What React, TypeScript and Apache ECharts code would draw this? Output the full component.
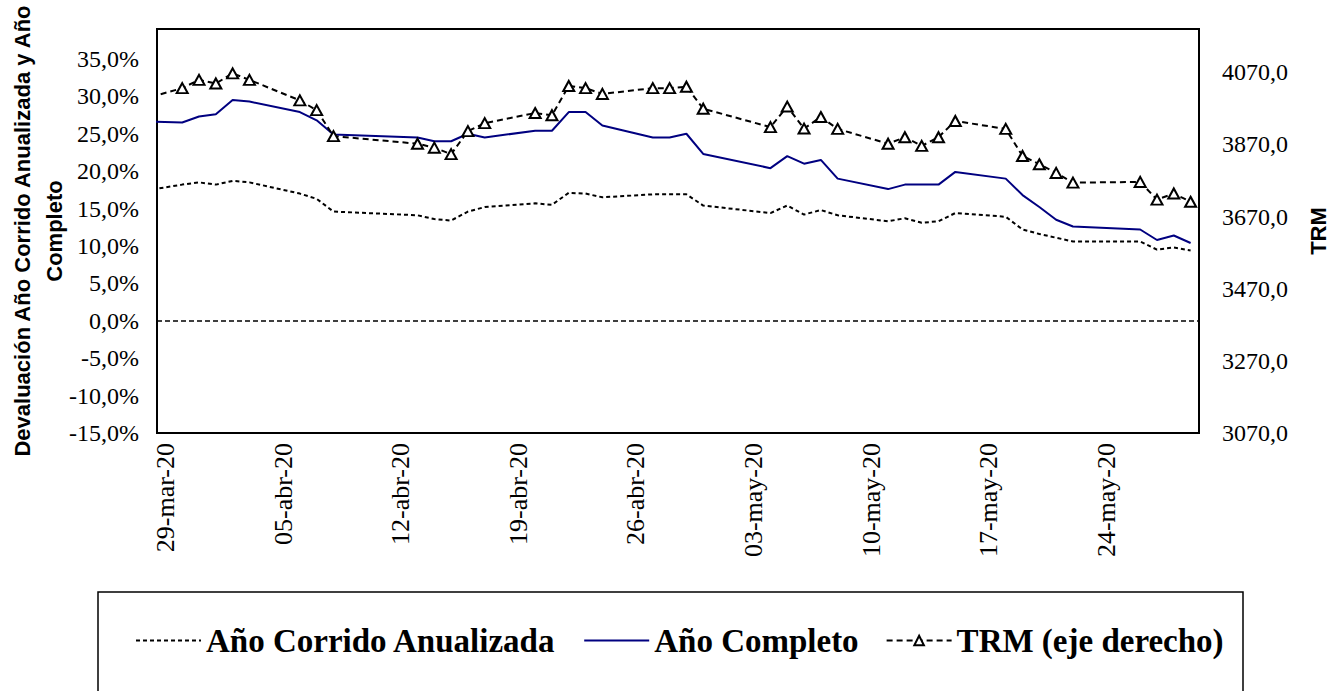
import React, { useEffect, useRef } from "react";
import * as echarts from "echarts";

// Trading days (TRM quote dates)
const tradeDates = [
  "2020-03-27", "2020-03-30", "2020-03-31", "2020-04-01", "2020-04-02", "2020-04-03",
  "2020-04-06", "2020-04-07", "2020-04-08", "2020-04-13", "2020-04-14", "2020-04-15",
  "2020-04-16", "2020-04-17", "2020-04-20", "2020-04-21", "2020-04-22", "2020-04-23",
  "2020-04-24", "2020-04-27", "2020-04-28", "2020-04-29", "2020-04-30", "2020-05-04",
  "2020-05-05", "2020-05-06", "2020-05-07", "2020-05-08", "2020-05-11", "2020-05-12",
  "2020-05-13", "2020-05-14", "2020-05-15", "2020-05-18", "2020-05-19", "2020-05-20",
  "2020-05-21", "2020-05-22", "2020-05-26", "2020-05-27", "2020-05-28", "2020-05-29",
];

// Devaluación año corrido anualizada (%)
const anioCorrido = [
  17.1, 18.2, 18.5, 18.2, 18.7, 18.5, 17.0, 16.3, 14.6, 14.1, 13.6, 13.4,
  14.6, 15.2, 15.7, 15.5, 17.1, 17.0, 16.5, 16.9, 16.9, 16.9, 15.4, 14.4,
  15.4, 14.2, 14.8, 14.1, 13.3, 13.7, 13.1, 13.3, 14.4, 13.9, 12.2, 11.6,
  11.1, 10.6, 10.6, 9.5, 9.8, 9.4,
];

// Devaluación año completo (%)
const anioCompleto = [
  26.7, 26.5, 27.3, 27.6, 29.5, 29.3, 27.9, 26.8, 24.9, 24.5, 24.0, 24.0,
  25.0, 24.5, 25.4, 25.4, 27.9, 27.9, 26.1, 24.5, 24.5, 25.0, 22.3, 20.4,
  22.0, 21.0, 21.5, 19.0, 17.6, 18.2, 18.2, 18.2, 19.9, 19.0, 16.8, 15.2,
  13.5, 12.6, 12.2, 10.8, 11.4, 10.4,
];

// Tasa Representativa del Mercado (COP por USD)
const trm = [
  3987, 4026, 4049, 4039, 4067, 4049, 3992, 3965, 3893, 3872, 3861, 3843,
  3907, 3929, 3957, 3951, 4032, 4026, 4010, 4026, 4026, 4030, 3969, 3918,
  3975, 3914, 3946, 3913, 3872, 3890, 3866, 3890, 3935, 3913, 3838, 3815,
  3791, 3764, 3766, 3717, 3734, 3711,
];

// Weekly date labels on the horizontal axis (Sundays)
const weekTicks = [
  "2020-03-29", "2020-04-05", "2020-04-12", "2020-04-19", "2020-04-26",
  "2020-05-03", "2020-05-10", "2020-05-17", "2020-05-24",
];

const seriesNames = ["Año Corrido Anualizada", "Año Completo", "TRM (eje derecho)"];
const monthsEs = ["ene", "feb", "mar", "abr", "may", "jun", "jul", "ago", "sep", "oct", "nov", "dic"];

const DAY = 86400000;
const BASE = Date.UTC(2020, 2, 29);

function dayOf(s: string): number {
  const [y, m, d] = s.split("-").map(Number);
  return Math.round((Date.UTC(y, m - 1, d) - BASE) / DAY);
}

function fmtDay(v: number): string {
  const dt = new Date(BASE + Math.round(v) * DAY);
  const dd = String(dt.getUTCDate()).padStart(2, "0");
  const yy = String(dt.getUTCFullYear()).slice(2);
  return `${dd}-${monthsEs[dt.getUTCMonth()]}-${yy}`;
}

const serif = "'Liberation Serif', 'Times New Roman', serif";
const sans = "'Liberation Sans', Arial, sans-serif";

export default function App() {
  const ref = useRef<HTMLDivElement | null>(null);

  useEffect(() => {
    if (!ref.current) return;
    const chart = echarts.init(ref.current, undefined, { renderer: "svg" });
    const xs = tradeDates.map(dayOf);

    chart.setOption({
      animation: false,
      backgroundColor: "#ffffff",
      grid: {
        left: 157,
        right: 137,
        top: 29,
        bottom: 258,
        outerBoundsMode: "none",
        containLabel: false,
        show: true,
        borderColor: "#000",
        borderWidth: 2,
        backgroundColor: "transparent",
      },
      graphic: [
        {
          type: "rect",
          shape: { x: 98, y: 592, width: 1145, height: 130 },
          style: { fill: "none", stroke: "#000", lineWidth: 1.5 },
          silent: true,
        },
      ],
      legend: {
        data: seriesNames.map((name, i) => ({
          name,
          itemStyle: i < 2 ? { opacity: 0 } : undefined,
        })),
        left: 130,
        top: 619,
        itemWidth: 65,
        itemHeight: 12,
        itemGap: 27,
        textStyle: {
          fontFamily: serif,
          fontWeight: "bold",
          fontSize: 33,
          color: "#000",
        },
      },
      xAxis: {
        type: "value",
        min: -0.5,
        max: 61.5,
        axisLine: { show: false },
        axisTick: { show: false },
        splitLine: { show: false },
        axisLabel: {
          customValues: weekTicks.map(dayOf),
          rotate: 90,
          margin: 10,
          fontFamily: serif,
          fontSize: 26,
          color: "#000",
          formatter: (v: number) => fmtDay(v),
        },
      },
      yAxis: [
        {
          type: "value",
          position: "left",
          min: -15,
          max: 39,
          interval: 5,
          axisLine: { show: false },
          axisTick: { show: false },
          splitLine: { show: false },
          axisLabel: {
            showMaxLabel: false,
            margin: 18,
            fontFamily: serif,
            fontSize: 24,
            color: "#000",
            formatter: (v: number) => v.toFixed(1).replace(".", ",") + "%",
          },
          name: "Devaluación Año Corrido Anualizada y Año\nCompleto",
          nameLocation: "middle",
          nameRotate: 90,
          nameGap: 87,
          nameMoveOverlap: false,
          nameTextStyle: {
            fontFamily: sans,
            fontWeight: "bold",
            fontSize: 22,
            lineHeight: 32,
            color: "#000",
          },
        },
        {
          type: "value",
          position: "right",
          min: 3070,
          max: 4190,
          interval: 200,
          axisLine: { show: false },
          axisTick: { show: false },
          splitLine: { show: false },
          axisLabel: {
            showMaxLabel: false,
            margin: 23,
            fontFamily: serif,
            fontSize: 24,
            color: "#000",
            formatter: (v: number) => v.toFixed(1).replace(".", ","),
          },
          name: "TRM",
          nameLocation: "middle",
          nameRotate: 90,
          nameGap: 108,
          nameMoveOverlap: false,
          nameTextStyle: {
            fontFamily: sans,
            fontWeight: "bold",
            fontSize: 22,
            color: "#000",
          },
        },
      ],
      series: [
        {
          name: seriesNames[0],
          type: "line",
          yAxisIndex: 0,
          data: xs.map((x, i) => [x, anioCorrido[i]]),
          symbol: "none",
          lineStyle: { color: "#000", width: 2, type: [4, 3] },
          itemStyle: { color: "#000" },
          markLine: {
            silent: true,
            symbol: "none",
            label: { show: false },
            lineStyle: { color: "#000", width: 1.5, type: [5, 3] },
            data: [{ yAxis: 0 }],
          },
        },
        {
          name: seriesNames[1],
          type: "line",
          yAxisIndex: 0,
          data: xs.map((x, i) => [x, anioCompleto[i]]),
          symbol: "none",
          lineStyle: { color: "#000080", width: 2, type: "solid" },
          itemStyle: { color: "#000080" },
        },
        {
          name: seriesNames[2],
          type: "line",
          yAxisIndex: 1,
          data: xs.map((x, i) => [x, trm[i]]),
          symbol: "triangle",
          symbolSize: [11, 10],
          showAllSymbol: true,
          lineStyle: { color: "#000", width: 2, type: [6, 4] },
          itemStyle: { color: "#fff", borderColor: "#000", borderWidth: 2 },
        },
      ],
    });

    return () => chart.dispose();
  }, []);

  return (
    <div
      ref={ref}
      style={{ position: "absolute", left: 0, top: 0, width: 1336, height: 691 }}
    />
  );
}
